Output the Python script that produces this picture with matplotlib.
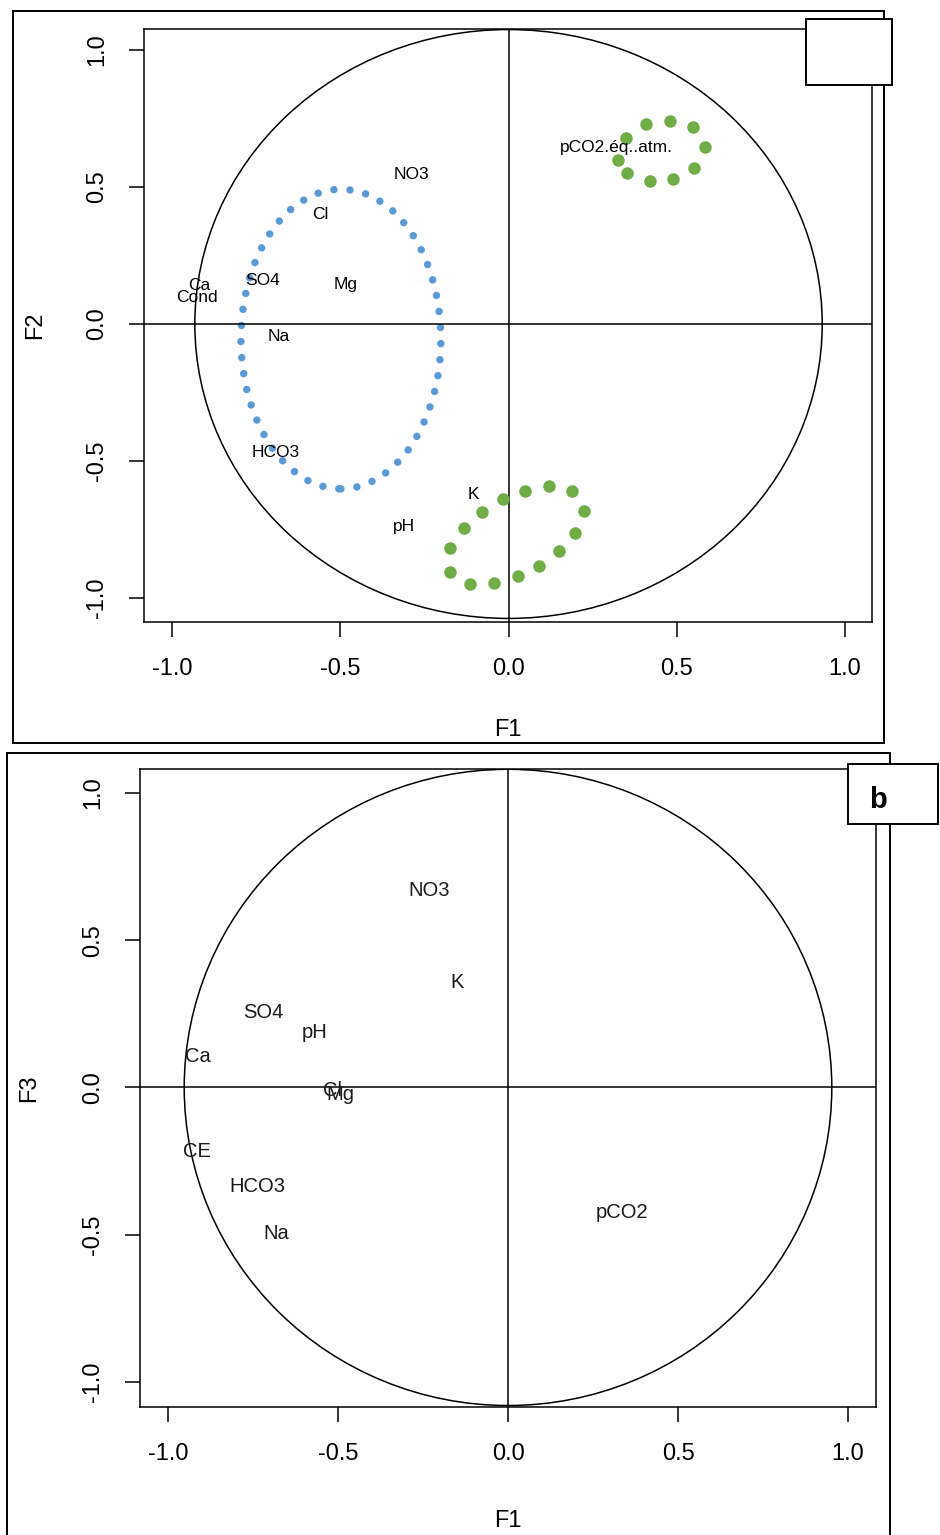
import matplotlib as mpl
mpl.use('Agg')
mpl.rcParams['font.family'] = ['Liberation Sans', 'DejaVu Sans']
mpl.rcParams['font.size'] = 17
mpl.rcParams['axes.linewidth'] = 1.1
mpl.rcParams['xtick.major.width'] = 1.1
mpl.rcParams['ytick.major.width'] = 1.1
mpl.rcParams['xtick.major.size'] = 10.8
mpl.rcParams['ytick.major.size'] = 10.8
import matplotlib.pyplot as plt
from matplotlib.patches import Ellipse, Rectangle

# panel a : F1 / F2
a_names = ['NO3', 'Cl', 'SO4', 'Mg', 'Ca', 'Cond', 'Na', 'HCO3', 'K', 'pH', 'pCO2.éq..atm.']
a_f1 = [-0.287, -0.560, -0.732, -0.483, -0.920, -0.926, -0.682, -0.691, -0.105, -0.311, 0.322]
a_f2 = [0.547, 0.398, 0.157, 0.146, 0.139, 0.095, -0.044, -0.471, -0.624, -0.741, 0.646]

# green dot groups drawn on panel a
green1_x = [0.408, 0.479, 0.547, 0.583, 0.551, 0.490, 0.420, 0.352, 0.325, 0.348]
green1_y = [0.729, 0.741, 0.719, 0.646, 0.569, 0.529, 0.521, 0.551, 0.599, 0.680]
green2_x = [-0.017, 0.049, 0.119, 0.190, 0.223, 0.198, 0.150, 0.092, 0.027, -0.042,
            -0.114, -0.175, -0.174, -0.133, -0.080]
green2_y = [-0.640, -0.608, -0.592, -0.609, -0.682, -0.763, -0.828, -0.882, -0.921, -0.945,
            -0.949, -0.904, -0.818, -0.745, -0.686]

# blue dotted ellipse (centre, half axes)
blue_centre = (-0.498, -0.055)
blue_half = (0.297, 0.547)

# panel b : F1 / F3
b_names = ['NO3', 'K', 'SO4', 'pH', 'Ca', 'Cl', 'Mg', 'CE', 'HCO3', 'Na', 'pCO2']
b_f1 = [-0.232, -0.150, -0.718, -0.568, -0.912, -0.515, -0.494, -0.915, -0.738, -0.682, 0.335]
b_f3 = [0.667, 0.355, 0.253, 0.188, 0.104, -0.012, -0.025, -0.219, -0.338, -0.497, -0.423]

ticks = [-1.0, -0.5, 0.0, 0.5, 1.0]
tick_labels = ['-1.0', '-0.5', '0.0', '0.5', '1.0']

fig = plt.figure(figsize=(9.4, 15.35), dpi=100)


def setup_axes(ax, xlim, ylim, ylabel, xlab_y, ylab_x):
    ax.set_xlim(*xlim)
    ax.set_ylim(*ylim)
    ax.set_xticks(ticks)
    ax.set_xticklabels(tick_labels)
    ax.set_yticks(ticks)
    ax.set_yticklabels(tick_labels, rotation=90, va='center')
    ax.tick_params(axis='both', direction='out', pad=15, labelsize=17)
    ax.axhline(0, color='black', lw=1.1)
    ax.axvline(0, color='black', lw=1.1)
    ax.set_xlabel('F1', fontsize=17)
    ax.set_ylabel(ylabel, fontsize=17)
    ax.xaxis.set_label_coords(0.5, xlab_y)
    ax.yaxis.set_label_coords(ylab_x, 0.5)
    ax.xaxis.label.set_va('center')
    ax.yaxis.label.set_va('center')


# ---- panel a
ax1 = fig.add_axes([0.1532, 0.59479, 0.7745, 0.38632])
setup_axes(ax1, (-1.083, 1.080), (-1.088, 1.077), 'F2', -0.182, -0.150)
ax1.add_patch(Ellipse((0, 0), 2 * 0.932, 2 * 1.075, fill=False, color='black', lw=1.1))
ax1.add_patch(Ellipse(blue_centre, 2 * blue_half[0], 2 * blue_half[1], fill=False,
                      edgecolor='#5B9BD5', lw=5.4, linestyle=(0, (0.001, 2.15)),
                      capstyle='round'))
ax1.plot(green1_x, green1_y, 'o', color='#70AD47', ms=9, mec='none')
ax1.plot(green2_x, green2_y, 'o', color='#70AD47', ms=9, mec='none')
for name, x, y in zip(a_names, a_f1, a_f2):
    ax1.text(x, y, name, ha='center', va='center', fontsize=12.5, color='black')

# ---- panel b
ax2 = fig.add_axes([0.14894, 0.08339, 0.78298, 0.41563])
setup_axes(ax2, (-1.082, 1.082), (-1.085, 1.081), 'F3', -0.179, -0.150)
ax2.add_patch(Ellipse((0, 0), 2 * 0.952, 2 * 1.08, fill=False, color='black', lw=1.1))
for name, x, y in zip(b_names, b_f1, b_f3):
    ax2.text(x, y, name, ha='center', va='center', fontsize=14.5, color='#1a1a1a')

# outer frames and panel tags
fig.add_artist(Rectangle((0.01383, 0.51596), 0.9266, 0.47687, transform=fig.transFigure,
                         fill=False, lw=1.4, zorder=4))
fig.add_artist(Rectangle((0.00745, -0.02), 0.93936, 0.52945, transform=fig.transFigure,
                         fill=False, lw=1.4, zorder=4))
fig.add_artist(Rectangle((0.8574, 0.94443), 0.0915, 0.04319, transform=fig.transFigure,
                         facecolor='white', edgecolor='black', lw=1.4, zorder=5))
fig.add_artist(Rectangle((0.90245, 0.4630), 0.09574, 0.03928, transform=fig.transFigure,
                         facecolor='white', edgecolor='black', lw=1.4, zorder=5))
fig.text(0.934, 0.4788, 'b', ha='center', va='center', fontsize=21, fontweight='bold',
         zorder=6)

plt.savefig('out.png', dpi=100)
